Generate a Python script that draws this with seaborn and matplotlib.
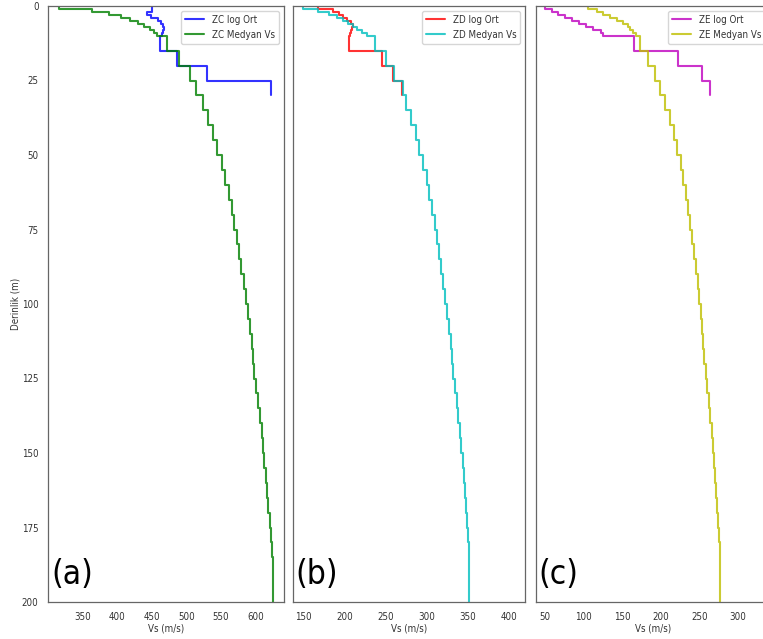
import matplotlib
matplotlib.use("Agg")
import matplotlib.pyplot as plt
import seaborn as sns
import pandas as pd

# ---------------- data ----------------
median_bounds = [0, 1, 2, 3, 4, 5, 6, 7, 8, 9, 10] + list(range(15, 205, 5))

zc_log_bounds = [0, 2, 3, 4, 5, 6, 7, 8, 9, 10, 15, 20, 25, 30]
zc_log_vs = [450, 442.8, 449, 459.5, 463, 466.8, 467.8, 466.8, 464.9, 462, 486.9, 530.1, 621.5]
zc_med_vs = [316, 363.5, 389, 406, 419, 430, 439, 447.5, 454, 458,
             472.5, 490, 505, 513.5, 524.5, 531.5, 538, 544.5, 551, 555.5,
             561.5, 565.5, 568.5, 572.5, 576, 579.5, 583, 586, 589, 591.5,
             594.5, 596, 598, 600.5, 603.5, 606, 608.5, 610.5, 612.5, 614.5,
             616.5, 618, 620, 622, 623.5, 624.5, 625, 625.4]

zd_log_bounds = [0, 1, 2, 3, 4, 5, 6, 7, 8, 9, 10, 15, 20, 25, 30]
zd_log_vs = [168.3, 186.5, 193.8, 198.6, 203.5, 208, 210.8, 209.2, 207.6, 206.8, 205.9, 245.3, 259.4, 269.6]
zd_med_vs = [149.5, 168.3, 181.6, 190.6, 197.9, 204.7, 210.8, 214.9, 221, 227,
             237, 250.5, 260.2, 271, 275, 281, 287, 291, 296, 300,
             303, 306.8, 309.7, 312.5, 315, 317.7, 320.2, 322.6, 325, 327.4,
             329.9, 331, 332.3, 334.4, 336.4, 338.4, 340.5, 342, 343.7, 345.3,
             346.9, 348.1, 349.4, 350.3, 350.8, 351.2, 351.5, 351.7]

ze_log_bounds = [0, 1, 2, 3, 4, 5, 6, 7, 8, 9, 10, 15, 20, 25, 30]
ze_log_vs = [50, 58.6, 67.3, 75.9, 84.5, 94.4, 103.1, 112.6, 122, 124.7, 165.3, 222.7, 253, 263.7]
ze_med_vs = [105.3, 117, 125.6, 134.2, 143.7, 151.5, 157.1, 160.1, 163.6, 168,
             173.1, 183.8, 192.5, 199, 205.4, 211.9, 216.8, 220.5, 225.8, 229.2,
             232.6, 235.6, 237.8, 240.4, 243, 245.6, 247.8, 249.9, 251.7, 253.4,
             255.1, 256.5, 258.1, 260.2, 262.4, 264.1, 265.9, 267.6, 269.3, 270.6,
             271.9, 273.2, 274.5, 275.4, 276.3, 276.7, 277, 277]

panel_labels = ["(a)", "(b)", "(c)"]
x_ticks = [[350, 400, 450, 500, 550, 600],
           [150, 200, 250, 300, 350, 400],
           [50, 100, 150, 200, 250, 300]]
y_ticks = [0, 25, 50, 75, 100, 125, 150, 175, 200]


def step_frame(bounds, vals):
    xs, ys = [], []
    for i, v in enumerate(vals):
        xs += [v, v]
        ys += [bounds[i], bounds[i + 1]]
    return pd.DataFrame({"Vs": xs, "Depth": ys})


# ---------------- style ----------------
sns.set_style("white")
plt.rcParams["font.family"] = ["DejaVu Sans"]
plt.rcParams["font.stretch"] = "condensed"
plt.rcParams["axes.edgecolor"] = "#666666"
plt.rcParams["xtick.color"] = "#505050"
plt.rcParams["ytick.color"] = "#505050"
plt.rcParams["xtick.labelcolor"] = "#333333"
plt.rcParams["ytick.labelcolor"] = "#333333"

W, H = 763, 639
fig = plt.figure(figsize=(W / 100, H / 100), dpi=100)


def px_axes(l, r, t=6, b=602):
    return fig.add_axes([l / W, (H - b) / H, (r - l) / W, (b - t) / H])


panels = [
    dict(ax=px_axes(48.3, 284), xlim=(301, 640.8),
         series=[("ZC log Ort", zc_log_bounds, zc_log_vs, "b"),
                 ("ZC Medyan Vs", median_bounds, zc_med_vs, "g")]),
    dict(ax=px_axes(292.7, 525.3), xlim=(137.1, 419.8),
         series=[("ZD log Ort", zd_log_bounds, zd_log_vs, "r"),
                 ("ZD Medyan Vs", median_bounds, zd_med_vs, "c")]),
    dict(ax=px_axes(536, 770), xlim=(38.3, 341.5),
         series=[("ZE log Ort", ze_log_bounds, ze_log_vs, "m"),
                 ("ZE Medyan Vs", median_bounds, ze_med_vs, "y")]),
]

for i, p in enumerate(panels):
    ax = p["ax"]
    for name, bounds, vals, col in p["series"]:
        df = step_frame(bounds, vals)
        sns.lineplot(data=df, x="Vs", y="Depth", sort=False, estimator=None,
                     color=col, alpha=0.8, linewidth=1.5, label=name, ax=ax)
    ax.set_xlim(*p["xlim"])
    ax.set_ylim(200, 0)
    ax.set_xticks(x_ticks[i])
    ax.set_yticks(y_ticks)
    ax.tick_params(axis="both", labelsize=7, length=3.5, width=0.8)
    ax.set_xlabel("Vs (m/s)", fontsize=7, color="#333333", labelpad=1.5)
    for s in ax.spines.values():
        s.set_linewidth(0.9)
    if i == 0:
        ax.set_ylabel("Derinlik (m)", fontsize=7, color="#333333")
        ax.yaxis.set_label_coords(-0.118, 0.5)
    else:
        ax.set_ylabel("")
        ax.tick_params(axis="y", left=False, labelleft=False)
    leg = ax.legend(loc="upper right", fontsize=7, frameon=True,
                    borderaxespad=0.5, handlelength=2.0)
    leg.get_frame().set_edgecolor("#cccccc")
    for t in leg.get_texts():
        t.set_color("#333333")
    ax.text(0.012, 0.018, panel_labels[i], transform=ax.transAxes,
            fontsize=24, ha="left", va="bottom", color="black")

fig.savefig("out.png", dpi=100)
